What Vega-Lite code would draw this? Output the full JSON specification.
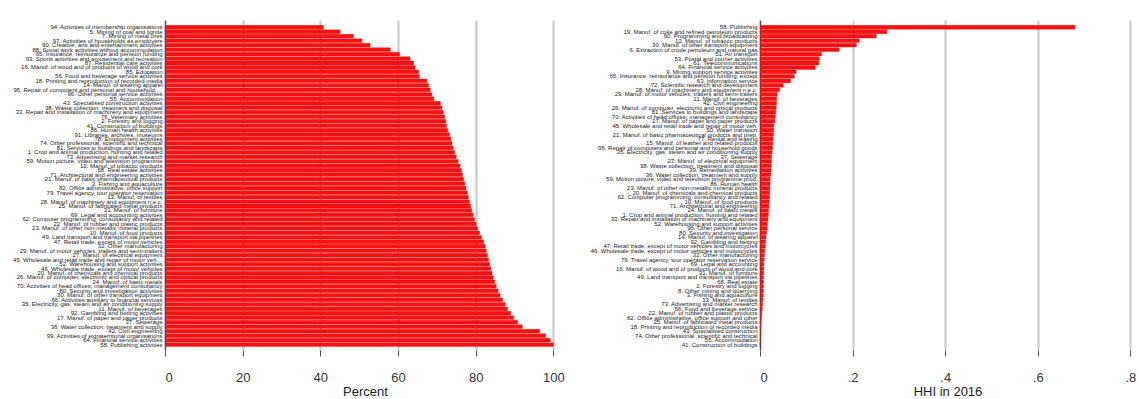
{
  "$schema": "https://vega.github.io/schema/vega-lite/v6.json",
  "padding": {"left": 10, "top": 20, "right": 3, "bottom": 0},
  "spacing": 10,
  "config": {
    "view": {"stroke": null},
    "font": "Liberation Sans",
    "axis": {"domainColor": "#555", "tickColor": "#555", "labelColor": "#333", "titleColor": "#222"},
    "axisX": {"grid": true, "gridColor": "#c8c8c8", "gridWidth": 2, "gridOpacity": 1}
  },
  "datasets": {
    "share": [
      {"industry": "94. Activities of membership organisations", "value": 40.8},
      {"industry": "5. Mining of coal and lignite", "value": 45.1},
      {"industry": "7. Mining of metal ores", "value": 48.5},
      {"industry": "97. Activities of households as employers", "value": 50.7},
      {"industry": "90. Creative, arts and entertainment activities", "value": 52.8},
      {"industry": "88. Social work activities without accommodation", "value": 58.0},
      {"industry": "65. Insurance, reinsurance and pension funding", "value": 60.4},
      {"industry": "93. Sports activities and amusement and recreation", "value": 63.1},
      {"industry": "87. Residential care activities", "value": 64.0},
      {"industry": "16. Manuf. of wood and of products of wood and cork", "value": 64.4},
      {"industry": "85. Education", "value": 65.3},
      {"industry": "56. Food and beverage service activities", "value": 65.5},
      {"industry": "18. Printing and reproduction of recorded media", "value": 67.4},
      {"industry": "14. Manuf. of wearing apparel", "value": 67.9},
      {"industry": "95. Repair of computers and personal and household goods", "value": 68.3},
      {"industry": "96. Other personal service activities", "value": 68.7},
      {"industry": "55. Accommodation", "value": 69.2},
      {"industry": "43. Specialised construction activities", "value": 70.9},
      {"industry": "38. Waste collection, treatment and disposal", "value": 71.3},
      {"industry": "33. Repair and installation of machinery and equipment", "value": 71.6},
      {"industry": "75. Veterinary activities", "value": 72.0},
      {"industry": "2. Forestry and logging", "value": 72.3},
      {"industry": "41. Construction of buildings", "value": 72.5},
      {"industry": "86. Human health activities", "value": 72.8},
      {"industry": "91. Libraries, archives, museums", "value": 73.2},
      {"industry": "78. Employment activities", "value": 73.6},
      {"industry": "74. Other professional, scientific and technical", "value": 73.9},
      {"industry": "81. Services to buildings and landscape", "value": 74.2},
      {"industry": "1. Crop and animal production, hunting and related", "value": 74.6},
      {"industry": "73. Advertising and market research", "value": 75.0},
      {"industry": "59. Motion picture, video and television programme", "value": 75.5},
      {"industry": "12. Manuf. of tobacco products", "value": 76.0},
      {"industry": "68. Real estate activities", "value": 76.3},
      {"industry": "71. Architectural and engineering activities", "value": 76.6},
      {"industry": "21. Manuf. of basic pharmaceutical products", "value": 76.9},
      {"industry": "3. Fishing and aquaculture", "value": 77.2},
      {"industry": "82. Office administrative, office support", "value": 77.5},
      {"industry": "79. Travel agency, tour operator reservation", "value": 77.8},
      {"industry": "13. Manuf. of textiles", "value": 78.1},
      {"industry": "28. Manuf. of machinery and equipment n.e.c.", "value": 78.4},
      {"industry": "25. Manuf. of fabricated metal products", "value": 78.7},
      {"industry": "31. Manuf. of furniture", "value": 79.0},
      {"industry": "69. Legal and accounting activities", "value": 79.3},
      {"industry": "62. Computer programming, consultancy and related", "value": 79.7},
      {"industry": "22. Manuf. of rubber and plastic products", "value": 80.1},
      {"industry": "23. Manuf. of other non-metallic mineral products", "value": 80.5},
      {"industry": "10. Manuf. of food products", "value": 81.0},
      {"industry": "49. Land transport and transport via pipelines", "value": 81.5},
      {"industry": "47. Retail trade, except of motor vehicles", "value": 82.0},
      {"industry": "32. Other manufacturing", "value": 82.4},
      {"industry": "29. Manuf. of motor vehicles, trailers and semi-trailers", "value": 82.7},
      {"industry": "27. Manuf. of electrical equipment", "value": 83.0},
      {"industry": "45. Wholesale and retail trade and repair of motor vehicles", "value": 83.3},
      {"industry": "52. Warehousing and support activities", "value": 83.6},
      {"industry": "46. Wholesale trade, except of motor vehicles", "value": 83.9},
      {"industry": "20. Manuf. of chemicals and chemical products", "value": 84.2},
      {"industry": "26. Manuf. of computer, electronic and optical products", "value": 84.5},
      {"industry": "24. Manuf. of basic metals", "value": 84.9},
      {"industry": "70. Activities of head offices; management consultancy", "value": 85.3},
      {"industry": "80. Security and investigation activities", "value": 85.8},
      {"industry": "30. Manuf. of other transport equipment", "value": 86.3},
      {"industry": "66. Activities auxiliary to financial services", "value": 86.9},
      {"industry": "35. Electricity, gas, steam and air conditioning supply", "value": 87.6},
      {"industry": "11. Manuf. of beverages", "value": 88.2},
      {"industry": "92. Gambling and betting activities", "value": 89.0},
      {"industry": "17. Manuf. of paper and paper products", "value": 89.8},
      {"industry": "37. Sewerage", "value": 90.8},
      {"industry": "36. Water collection, treatment and supply", "value": 92.0},
      {"industry": "42. Civil engineering", "value": 96.5},
      {"industry": "99. Activities of extraterritorial organisations", "value": 98.0},
      {"industry": "64. Financial service activities", "value": 99.2},
      {"industry": "58. Publishing activities", "value": 100.0}
    ],
    "hhi": [
      {"industry": "58. Publishing", "value": 0.680},
      {"industry": "19. Manuf. of coke and refined petroleum products", "value": 0.274},
      {"industry": "60. Programming and broadcasting", "value": 0.251},
      {"industry": "12. Manuf. of tobacco products", "value": 0.214},
      {"industry": "30. Manuf. of other transport equipment", "value": 0.208},
      {"industry": "6. Extraction of crude petroleum and natural gas", "value": 0.171},
      {"industry": "51. Air transport", "value": 0.133},
      {"industry": "53. Postal and courier activities", "value": 0.128},
      {"industry": "61. Telecommunications", "value": 0.127},
      {"industry": "64. Financial service activities", "value": 0.119},
      {"industry": "9. Mining support service activities", "value": 0.078},
      {"industry": "65. Insurance, reinsurance and pension funding, except", "value": 0.074},
      {"industry": "63. Information service", "value": 0.066},
      {"industry": "72. Scientific research and development", "value": 0.050},
      {"industry": "28. Manuf. of machinery and equipment n.e.c.", "value": 0.042},
      {"industry": "29. Manuf. of motor vehicles, trailers and semi-trailers", "value": 0.037},
      {"industry": "11. Manuf. of beverages", "value": 0.036},
      {"industry": "42. Civil engineering", "value": 0.0355},
      {"industry": "26. Manuf. of computer, electronic and optical products", "value": 0.035},
      {"industry": "81. Services to buildings and landscape", "value": 0.034},
      {"industry": "70. Activities of head offices; management consultancy", "value": 0.033},
      {"industry": "17. Manuf. of paper and paper products", "value": 0.032},
      {"industry": "45. Wholesale and retail trade and repair of motor veh.", "value": 0.030},
      {"industry": "50. Water transport", "value": 0.0298},
      {"industry": "21. Manuf. of basic pharmaceutical products and prep.", "value": 0.0292},
      {"industry": "77. Rental and leasing", "value": 0.028},
      {"industry": "15. Manuf. of leather and related products", "value": 0.0275},
      {"industry": "95. Repair of computers and personal and household goods", "value": 0.027},
      {"industry": "35. Electricity, gas, steam and air conditioning supply", "value": 0.0262},
      {"industry": "37. Sewerage", "value": 0.025},
      {"industry": "27. Manuf. of electrical equipment", "value": 0.0245},
      {"industry": "38. Waste collection, treatment and disposal", "value": 0.024},
      {"industry": "39. Remediation activities", "value": 0.0235},
      {"industry": "36. Water collection, treatment and supply", "value": 0.023},
      {"industry": "59. Motion picture, video and television programme prod.", "value": 0.022},
      {"industry": "86. Human health", "value": 0.0218},
      {"industry": "23. Manuf. of other non-metallic mineral products", "value": 0.0214},
      {"industry": "20. Manuf. of chemicals and chemical products", "value": 0.021},
      {"industry": "62. Computer programming, consultancy and related", "value": 0.0205},
      {"industry": "10. Manuf. of food products", "value": 0.020},
      {"industry": "71. Architectural and engineering", "value": 0.0192},
      {"industry": "24. Manuf. of basic metals", "value": 0.0185},
      {"industry": "1. Crop and animal production, hunting and related", "value": 0.018},
      {"industry": "33. Repair and installation of machinery and equipment", "value": 0.0172},
      {"industry": "52. Warehousing and support activities", "value": 0.016},
      {"industry": "96. Other personal service", "value": 0.0155},
      {"industry": "80. Security and investigation", "value": 0.014},
      {"industry": "14. Manuf. of wearing apparel", "value": 0.013},
      {"industry": "92. Gambling and betting", "value": 0.012},
      {"industry": "47. Retail trade, except of motor vehicles and motorcycles", "value": 0.011},
      {"industry": "46. Wholesale trade, except of motor vehicles and motorcycles", "value": 0.0102},
      {"industry": "32. Other manufacturing", "value": 0.0095},
      {"industry": "79. Travel agency, tour operator reservation service", "value": 0.009},
      {"industry": "69. Legal and accounting", "value": 0.0085},
      {"industry": "16. Manuf. of wood and of products of wood and cork", "value": 0.008},
      {"industry": "31. Manuf. of furniture", "value": 0.0078},
      {"industry": "49. Land transport and transport via pipelines", "value": 0.0076},
      {"industry": "68. Real estate", "value": 0.0074},
      {"industry": "2. Forestry and logging", "value": 0.0072},
      {"industry": "8. Other mining and quarrying", "value": 0.007},
      {"industry": "3. Fishing and aquaculture", "value": 0.0066},
      {"industry": "13. Manuf. of textiles", "value": 0.006},
      {"industry": "73. Advertising and market research", "value": 0.0056},
      {"industry": "56. Food and beverage service", "value": 0.005},
      {"industry": "22. Manuf. of rubber and plastic products", "value": 0.004},
      {"industry": "82. Office administrative, office support and other", "value": 0.0032},
      {"industry": "25. Manuf. of fabricated metal products", "value": 0.0025},
      {"industry": "18. Printing and reproduction of recorded media", "value": 0.002},
      {"industry": "43. Specialised construction", "value": 0.0017},
      {"industry": "74. Other professional, scientific and technical", "value": 0.0012},
      {"industry": "55. Accommodation", "value": 0.0008},
      {"industry": "41. Construction of buildings", "value": 0.0005}
    ]
  },
  "hconcat": [
    {
      "data": {"name": "share"},
      "width": 400,
      "height": 330,
      "mark": {"type": "bar", "color": "#ff1010", "stroke": "#b00000", "strokeWidth": 0.3},
      "encoding": {
        "y": {
          "field": "industry", "type": "nominal", "sort": "x",
          "scale": {"paddingInner": 0.15, "paddingOuter": 1, "align": 0.6},
          "axis": {"title": null, "ticks": false, "labelFontSize": 6, "labelOverlap": false, "labelLimit": 150, "labelPadding": 3, "minExtent": 155, "maxExtent": 155, "domainWidth": 1.2, "grid": false, "labelColor": "#1a1a1a"}
        },
        "x": {
          "field": "value", "type": "quantitative",
          "scale": {"domain": [0, 103], "nice": false},
          "axis": {"title": "Percent", "values": [0, 20, 40, 60, 80, 100], "labelFontSize": 13, "titleFontSize": 13, "titleFontWeight": "normal", "tickSize": 6, "labelPadding": 15, "titlePadding": 1, "domain": false}
        }
      }
    },
    {
      "data": {"name": "hhi"},
      "width": 375,
      "height": 330,
      "mark": {"type": "bar", "color": "#ff1010", "stroke": "#b00000", "strokeWidth": 0.3},
      "encoding": {
        "y": {
          "field": "industry", "type": "nominal", "sort": "-x",
          "scale": {"paddingInner": 0.15, "paddingOuter": 1, "align": 0.6},
          "axis": {"title": null, "ticks": false, "labelFontSize": 6, "labelOverlap": false, "labelLimit": 180, "labelPadding": 3, "minExtent": 185, "maxExtent": 185, "domainWidth": 1.2, "grid": false, "labelColor": "#1a1a1a"}
        },
        "x": {
          "field": "value", "type": "quantitative",
          "scale": {"domain": [0, 0.81], "nice": false},
          "axis": {"title": "HHI in 2016", "values": [0, 0.2, 0.4, 0.6, 0.8], "labelExpr": "datum.value == 0 ? '0' : '.' + format(datum.value * 10, 'd')", "labelFontSize": 13, "titleFontSize": 13, "titleFontWeight": "normal", "tickSize": 6, "labelPadding": 15, "titlePadding": 1, "domain": false}
        }
      }
    }
  ]
}
